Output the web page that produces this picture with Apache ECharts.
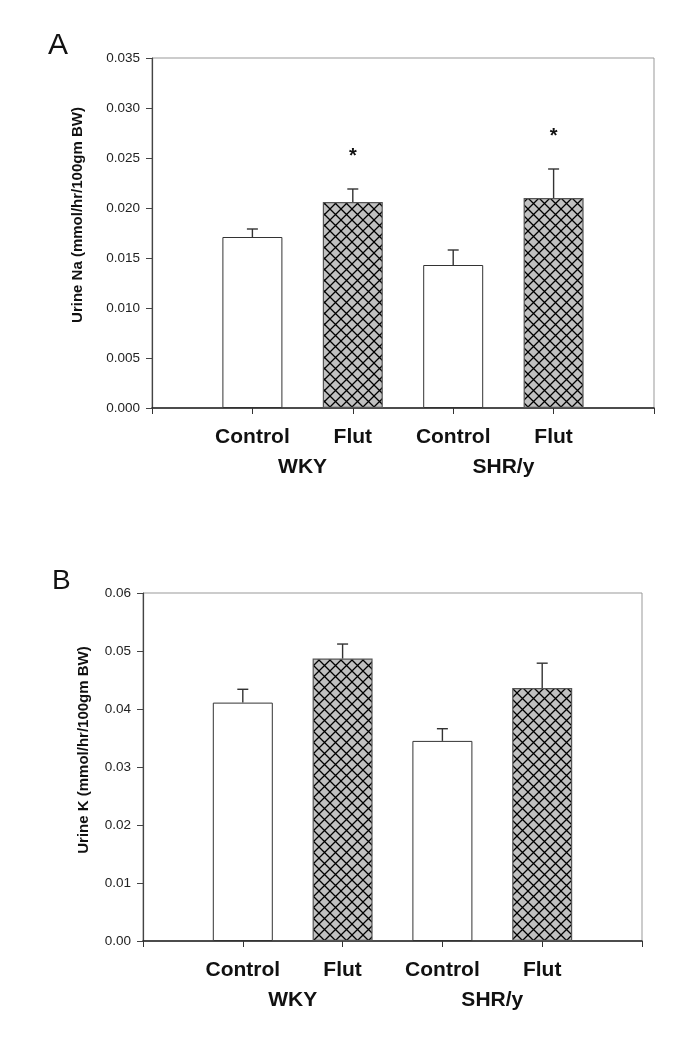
<!DOCTYPE html>
<html>
<head>
<meta charset="utf-8">
<script src="https://cdn.jsdelivr.net/npm/echarts@6/dist/echarts.min.js"></script>
<style>
  html, body { margin: 0; padding: 0; background: #fff; }
  #chart { width: 685px; height: 1045px; }
</style>
</head>
<body>
<div id="chart"></div>
<script>
// ---- data ----
const treatments = ['Control', 'Flut', 'Control', 'Flut'];
const strains = ['WKY', 'SHR/y'];
const naMean = [0.0171, 0.0206, 0.0143, 0.0210];
const naErr  = [0.0008, 0.0013, 0.0015, 0.0029];
const naSig  = ['', '*', '', '*'];
const kMean  = [0.0411, 0.0487, 0.0345, 0.0436];
const kErr   = [0.0023, 0.0025, 0.0021, 0.0043];
const kSig   = ['', '', '', ''];
const naTitle = 'Urine Na (mmol/hr/100gm BW)';
const kTitle  = 'Urine K (mmol/hr/100gm BW)';
const panelLetters = ['A', 'B'];

// ---- derived ----
const FONT = 'Liberation Sans, Arial, sans-serif';
const xCats = [''].concat(treatments, ['']);
const groupCats = ['', strains[0], '', strains[1], ''];

// crosshatch pattern
const tile = document.createElement('canvas');
const S = 11;
tile.width = S; tile.height = S;
const tctx = tile.getContext('2d');
tctx.fillStyle = '#c0c0c0';
tctx.fillRect(0, 0, S, S);
tctx.strokeStyle = '#000';
tctx.lineWidth = 1.3;
tctx.beginPath();
tctx.moveTo(-1, -1); tctx.lineTo(S + 1, S + 1);
tctx.moveTo(S + 1, -1); tctx.lineTo(-1, S + 1);
tctx.stroke();
const hatch = { image: tile, repeat: 'repeat' };

function barData(means) {
  return means.map((v, i) => ({
    value: [i + 1, v],
    itemStyle: treatments[i] === 'Flut'
      ? { color: hatch, borderColor: '#555', borderWidth: 1.2 }
      : { color: '#ffffff', borderColor: '#333', borderWidth: 1 }
  }));
}
function errData(means, errs) {
  return means.map((v, i) => [i + 1, v, v + errs[i]]);
}
function sigLookup(params) {
  const arr = params.seriesId === 'errA' ? naSig : kSig;
  return arr[params.dataIndex];
}
function errRender(params, api) {
  const top = api.coord([api.value(0), api.value(1)]);
  const cap = api.coord([api.value(0), api.value(2)]);
  const sig = sigLookup(params);
  const hw = 5.5;
  const children = [
    { type: 'line', shape: { x1: top[0], y1: top[1], x2: cap[0], y2: cap[1] },
      style: { stroke: '#333', lineWidth: 1.4 } },
    { type: 'line', shape: { x1: cap[0] - hw, y1: cap[1], x2: cap[0] + hw, y2: cap[1] },
      style: { stroke: '#333', lineWidth: 1.4 } }
  ];
  if (sig) {
    children.push({ type: 'text', style: { text: sig, x: cap[0], y: cap[1] - 43,
      align: 'center', verticalAlign: 'top', font: 'bold 20px ' + FONT, fill: '#111' } });
  }
  return { type: 'group', children: children };
}

const grids = [
  { left: 152, top: 58, width: 502, height: 350 },
  { left: 143, top: 593, width: 499, height: 348 }
];

function catAxis(gi) {
  return {
    type: 'category', gridIndex: gi, data: xCats, boundaryGap: false,
    axisLine: { lineStyle: { color: '#222', width: 1.5 } },
    axisTick: { show: true, length: 6, interval: 0, lineStyle: { color: '#333' } },
    axisLabel: { interval: 0, margin: 19, fontFamily: FONT, fontSize: 21, fontWeight: 'bold', color: '#111' },
    splitLine: { show: false }
  };
}
function groupAxis(gi) {
  return {
    type: 'category', gridIndex: gi, data: groupCats, boundaryGap: true, position: 'bottom',
    axisLine: { show: false }, axisTick: { show: false },
    axisLabel: { interval: 0, margin: 49, fontFamily: FONT, fontSize: 21, fontWeight: 'bold', color: '#111' },
    splitLine: { show: false }
  };
}
function valAxis(gi, max, interval, digits) {
  return {
    type: 'value', gridIndex: gi, min: 0, max: max, interval: interval,
    axisLine: { show: true, lineStyle: { color: '#444', width: 1.2 } },
    axisTick: { show: true, length: 6, lineStyle: { color: '#444' } },
    axisLabel: { margin: 12, fontFamily: FONT, fontSize: 13.5, color: '#222',
      formatter: v => v.toFixed(digits) },
    splitLine: { show: false }
  };
}

const option = {
  backgroundColor: '#fff',
  animation: false,
  grid: grids.map(g => Object.assign({ show: true, borderColor: '#999', borderWidth: 1, backgroundColor: 'transparent' }, g)),
  xAxis: [catAxis(0), groupAxis(0), catAxis(1), groupAxis(1)],
  yAxis: [valAxis(0, 0.035, 0.005, 3), valAxis(1, 0.06, 0.01, 2)],
  series: [
    { type: 'bar', xAxisIndex: 0, yAxisIndex: 0, barWidth: 60, data: barData(naMean) },
    { type: 'custom', id: 'errA', xAxisIndex: 0, yAxisIndex: 0, renderItem: errRender,
      data: errData(naMean, naErr), z: 5 },
    { type: 'bar', xAxisIndex: 2, yAxisIndex: 1, barWidth: 60, data: barData(kMean) },
    { type: 'custom', id: 'errB', xAxisIndex: 2, yAxisIndex: 1, renderItem: errRender,
      data: errData(kMean, kErr), z: 5 }
  ],
  graphic: [
    { type: 'text', x: 48, y: 31, style: { text: panelLetters[0], font: '30px ' + FONT, fill: '#111' } },
    { type: 'text', x: 52, y: 567, style: { text: panelLetters[1], font: '28px ' + FONT, fill: '#111' } },
    { type: 'text', x: 78, y: 215, rotation: Math.PI / 2,
      style: { text: naTitle, font: 'bold 15px ' + FONT, fill: '#111', align: 'center', verticalAlign: 'middle' } },
    { type: 'text', x: 84, y: 750, rotation: Math.PI / 2,
      style: { text: kTitle, font: 'bold 15px ' + FONT, fill: '#111', align: 'center', verticalAlign: 'middle' } }
  ]
};

const chart = echarts.init(document.getElementById('chart'), null, { renderer: 'canvas' });
chart.setOption(option);
</script>
</body>
</html>
